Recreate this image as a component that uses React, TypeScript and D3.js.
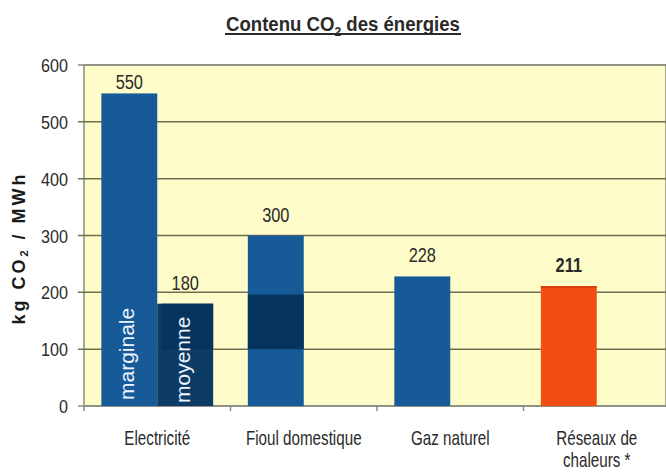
import * as React from 'react';
import * as d3 from 'd3';

// categories and values
const categories = ['Electricité', 'Fioul domestique', 'Gaz naturel', 'Réseaux de chaleurs *'];
const categoryLines = [['Electricité'], ['Fioul domestique'], ['Gaz naturel'], ['Réseaux de', 'chaleurs *']];
const series = ['marginale', 'moyenne'];
const marginaleValues = [550, 300, 228, 211];
const moyenneValues = [180, null, null, null];
const yTicks = [0, 100, 200, 300, 400, 500, 600];
// dark patches (100 → top) drawn over bars
const patchCategory = ['Electricité', 'Fioul domestique'];
const patchSeries = ['moyenne', 'marginale'];
const patchLow = [100, 100];
const patchHigh = [180, 196];

const W = 666;
const H = 472;
const margin = { top: 65, right: -4, bottom: 66, left: 84 };

const blue = '#165b97';
const navy = '#0c3b66';
const patchColor = '#05355f';
const orange = '#f24e14';
const font = '"Liberation Sans", Arial, sans-serif';
const ink = '#2a2a2a';

// the original uses a condensed face; squeeze a regular one instead
function Narrow(props: { x: number; y: number; sx: number; size: number; anchor?: string; bold?: boolean; children: React.ReactNode }) {
    return (
        <g transform={`translate(${props.x},${props.y}) scale(${props.sx},1)`}>
            <text textAnchor={props.anchor || 'middle'} fontFamily={font} fontSize={props.size}
                fontWeight={props.bold ? 'bold' : 'normal'} fill={ink}>
                {props.children}
            </text>
        </g>
    );
}

export default function App() {
    const x = d3.scaleBand<string>()
        .domain(categories)
        .range([margin.left, W - margin.right]);

    const xInner = d3.scaleBand<string>()
        .domain(series)
        .range([0, x.bandwidth()])
        .paddingOuter(0.31);

    const y = d3.scaleLinear()
        .domain([0, 600])
        .range([H - margin.bottom, margin.top]);

    const bars: Array<{ cat: string; s: string; v: number; color: string }> = [];
    categories.forEach((c, i) => {
        bars.push({ cat: c, s: 'marginale', v: marginaleValues[i], color: i === 3 ? orange : blue });
        if (moyenneValues[i] != null) {
            bars.push({ cat: c, s: 'moyenne', v: moyenneValues[i] as number, color: navy });
        }
    });

    const labelY = (v: number) => Math.max(y(v) - 14, y(600) + 24);
    const bw = xInner.bandwidth();

    return (
        <svg width={W} height={H} style={{ position: 'absolute', left: 0, top: 0, background: '#fff' }}>
            {/* title */}
            <g transform="translate(343,31) scale(0.93,1)">
                <text textAnchor="middle" fontFamily={font} fontWeight="bold" fontSize={20} fill={ink}>
                    Contenu CO<tspan fontSize={13} dy={5}>2</tspan><tspan dy={-5}> des énergies</tspan>
                </text>
            </g>
            <line x1={225} x2={461} y1={34} y2={34} stroke={ink} strokeWidth={2} />

            {/* plot area */}
            <rect x={margin.left} y={margin.top} width={W - margin.left} height={y(0) - margin.top}
                fill="#fefdc9" stroke="#8a8a80" strokeWidth={1.5} />

            {yTicks.map(t => (
                <g key={t}>
                    <line x1={78} x2={W} y1={y(t)} y2={y(t)} stroke={t === 0 || t === 600 ? '#8a8a80' : '#6f6e52'} strokeWidth={1.5} />
                    <Narrow x={68} y={y(t) + 7} sx={0.85} size={19} anchor="end">{t}</Narrow>
                </g>
            ))}

            {/* x axis ticks at category boundaries */}
            {categories.map(c => (
                <line key={c} x1={x(c)!} x2={x(c)!} y1={y(0)} y2={y(0) + 5} stroke="#8a8a80" strokeWidth={1.5} />
            ))}

            {/* bars */}
            {bars.map((b, i) => (
                <rect key={i} x={x(b.cat)! + xInner(b.s)!} y={y(b.v)} width={bw} height={y(0) - y(b.v)} fill={b.color} />
            ))}
            <line x1={x(categories[3])! + xInner('marginale')!} x2={x(categories[3])! + xInner('marginale')! + bw}
                y1={y(marginaleValues[3]) + 1} y2={y(marginaleValues[3]) + 1} stroke="#d8400e" strokeWidth={2} />

            {patchCategory.map((c, i) => (
                <rect key={c} x={x(c)! + xInner(patchSeries[i])! + (patchSeries[i] === 'moyenne' ? 4 : 0)} y={y(patchHigh[i])}
                    width={bw - (patchSeries[i] === 'moyenne' ? 4 : 0)} height={y(patchLow[i]) - y(patchHigh[i])} fill={patchColor} />
            ))}

            {/* labels inside bars */}
            <text transform={`translate(${x(categories[0])! + xInner('marginale')! + bw / 2 + 5},${y(0) - 6}) rotate(-90)`}
                fontFamily={font} fontSize={21} fill="#eef4ff">marginale</text>
            <text transform={`translate(${x(categories[0])! + xInner('moyenne')! + bw / 2 + 5},${y(0) - 3}) rotate(-90)`}
                fontFamily={font} fontSize={21} fill="#eef4ff">moyenne</text>

            {/* value labels */}
            {bars.map((b, i) => (
                <Narrow key={i} x={x(b.cat)! + xInner(b.s)! + bw / 2} y={labelY(b.v)} sx={0.78} size={21}
                    bold={b.cat === categories[3]}>{b.v}</Narrow>
            ))}

            {/* category labels */}
            {categories.map((c, i) => (
                <g key={c}>
                    {categoryLines[i].map((l, j) => (
                        <Narrow key={j} x={x(c)! + x.bandwidth() / 2} y={445 + j * 22} sx={0.76} size={20}>{l}</Narrow>
                    ))}
                </g>
            ))}

            {/* y axis title */}
            <text transform={`translate(25,248) rotate(-90)`} textAnchor="middle" letterSpacing={3}
                fontFamily={font} fontWeight="bold" fontSize={18} fill="#1a1a1a">
                kg CO<tspan fontSize={11} dy={3}>2</tspan><tspan dy={-3}> / MWh</tspan>
            </text>
        </svg>
    );
}
